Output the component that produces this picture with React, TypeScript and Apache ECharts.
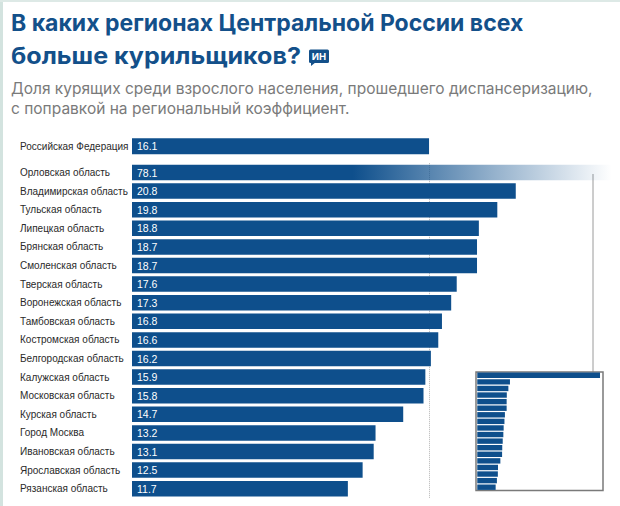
import React, { useEffect, useRef } from "react";
import * as echarts from "echarts";

const rfLabel = ["Российская Федерация"];
const rfValue = [16.1];

const regions = [
  "Орловская область",
  "Владимирская область",
  "Тульская область",
  "Липецкая область",
  "Брянская область",
  "Смоленская область",
  "Тверская область",
  "Воронежская область",
  "Тамбовская область",
  "Костромская область",
  "Белгородская область",
  "Калужская область",
  "Московская область",
  "Курская область",
  "Город Москва",
  "Ивановская область",
  "Ярославская область",
  "Рязанская область",
];
const values = [78.1, 20.8, 19.8, 18.8, 18.7, 18.7, 17.6, 17.3, 16.8, 16.6, 16.2, 15.9, 15.8, 14.7, 13.2, 13.1, 12.5, 11.7];

const titleLines = ["В каких регионах Центральной России всех", "больше курильщиков?"];
const subtitleLines = [
  "Доля курящих среди взрослого населения, прошедшего диспансеризацию,",
  "с поправкой на региональный коэффициент.",
];
const badgeText = "ИН";

const BLUE = "#0e4f8c";
const TITLE_BLUE = "#13508a";
const MAIN_MAX = 26;
const INSET_MAX = 80;

export default function App() {
  const ref = useRef<HTMLDivElement>(null);
  useEffect(() => {
    if (!ref.current) return;
    const chart = echarts.init(ref.current, undefined, { renderer: "svg" });
    const left = 132;
    const scale = 18.45;
    const width = MAIN_MAX * scale;
    const gradient = new echarts.graphic.LinearGradient(
      left, 0, left + width, 0,
      [
        { offset: 0, color: BLUE },
        { offset: 0.46, color: BLUE },
        { offset: 0.75, color: "rgba(14,79,140,0.45)" },
        { offset: 1, color: "rgba(14,79,140,0)" },
      ],
      true
    );
    const mainData = values.map((v) => (v > MAIN_MAX ? { value: v, itemStyle: { color: gradient } } : v));
    const labelFont = { fontFamily: "Liberation Sans, Arial, sans-serif", fontSize: 10 };
    const valueLabel = {
      show: true,
      position: "insideLeft",
      distance: 5,
      color: "#fff",
      fontFamily: "Liberation Sans, Arial, sans-serif",
      fontSize: 10.5,
      formatter: (p: any) => Number(p.value).toFixed(1),
    };
    const catAxisCommon = {
      type: "category",
      inverse: true,
      axisLine: { show: false },
      axisTick: { show: false },
      axisLabel: { align: "left", margin: 112, color: "#2a2a2a", ...labelFont },
    };
    chart.setOption({
      animation: false,
      backgroundColor: "#fff",
      grid: [
        { left, top: 137, width, height: 18.6 },
        { left, top: 163.2, width, height: 334.8 },
        {
          left: 476, top: 372, width: 127, height: 118.5, show: true,
          borderColor: "#7a7a7a", borderWidth: 1.5, backgroundColor: "#fff", z: 3,
        },
      ],
      xAxis: [
        { gridIndex: 0, type: "value", min: 0, max: MAIN_MAX, show: false },
        { gridIndex: 1, type: "value", min: 0, max: MAIN_MAX, show: false },
        { gridIndex: 2, type: "value", min: -0.8, max: INSET_MAX, show: false },
      ],
      yAxis: [
        { gridIndex: 0, data: rfLabel, ...catAxisCommon },
        { gridIndex: 1, data: regions, ...catAxisCommon },
        { gridIndex: 2, type: "category", inverse: true, data: regions, show: false },
      ],
      series: [
        {
          type: "bar", xAxisIndex: 0, yAxisIndex: 0, data: rfValue, barWidth: 16,
          itemStyle: { color: BLUE }, label: valueLabel, z: 2,
        },
        {
          type: "bar", xAxisIndex: 1, yAxisIndex: 1, data: mainData, barWidth: 15.5,
          itemStyle: { color: BLUE }, label: valueLabel, z: 2,
          markLine: {
            silent: true, symbol: "none", z: 1,
            label: { show: false },
            lineStyle: { color: "#b5b5b5", type: "dotted", width: 1 },
            data: [{ xAxis: rfValue[0] }],
          },
        },
        {
          type: "bar", xAxisIndex: 2, yAxisIndex: 2, data: values, barCategoryGap: "18%",
          itemStyle: { color: BLUE }, z: 4,
        },
      ],
      graphic: [
        { type: "rect", shape: { x: 0, y: 0, width: 3, height: 506 }, style: { fill: "#d3e3df" }, silent: true },
        { type: "rect", shape: { x: 0, y: 0, width: 620, height: 2 }, style: { fill: "#dde9e6" }, silent: true },
        {
          type: "text", x: 11, y: 23,
          style: { text: titleLines[0], font: "bold 23px Inter, sans-serif", fill: TITLE_BLUE, verticalAlign: "middle" },
        },
        {
          type: "text", x: 11, y: 56, scaleX: 1.09,
          style: { text: titleLines[1], font: "bold 23px Inter, sans-serif", fill: TITLE_BLUE, verticalAlign: "middle" },
        },
        { type: "rect", shape: { x: 309, y: 49.5, width: 20, height: 13.5, r: 1.5 }, style: { fill: TITLE_BLUE } },
        { type: "polygon", shape: { points: [[311, 62], [316, 62], [311, 66]] }, style: { fill: TITLE_BLUE } },
        {
          type: "text", x: 319, y: 56.5,
          style: { text: badgeText, font: "bold 9.5px Inter, sans-serif", fill: "#fff", align: "center", verticalAlign: "middle" },
        },
        {
          type: "text", x: 11, y: 88,
          style: { text: subtitleLines[0], font: "15.5px Inter, sans-serif", fill: "#7a7a7a", verticalAlign: "middle" },
        },
        {
          type: "text", x: 11, y: 108,
          style: { text: subtitleLines[1], font: "15.5px Inter, sans-serif", fill: "#7a7a7a", verticalAlign: "middle" },
        },
        { type: "line", shape: { x1: 593, y1: 174, x2: 593, y2: 372 }, style: { stroke: "#9a9a9a", lineWidth: 1 }, z: 1 },
      ],
    });
    return () => chart.dispose();
  }, []);
  return <div ref={ref} style={{ position: "absolute", left: 0, top: 0, width: 620, height: 506 }} />;
}
